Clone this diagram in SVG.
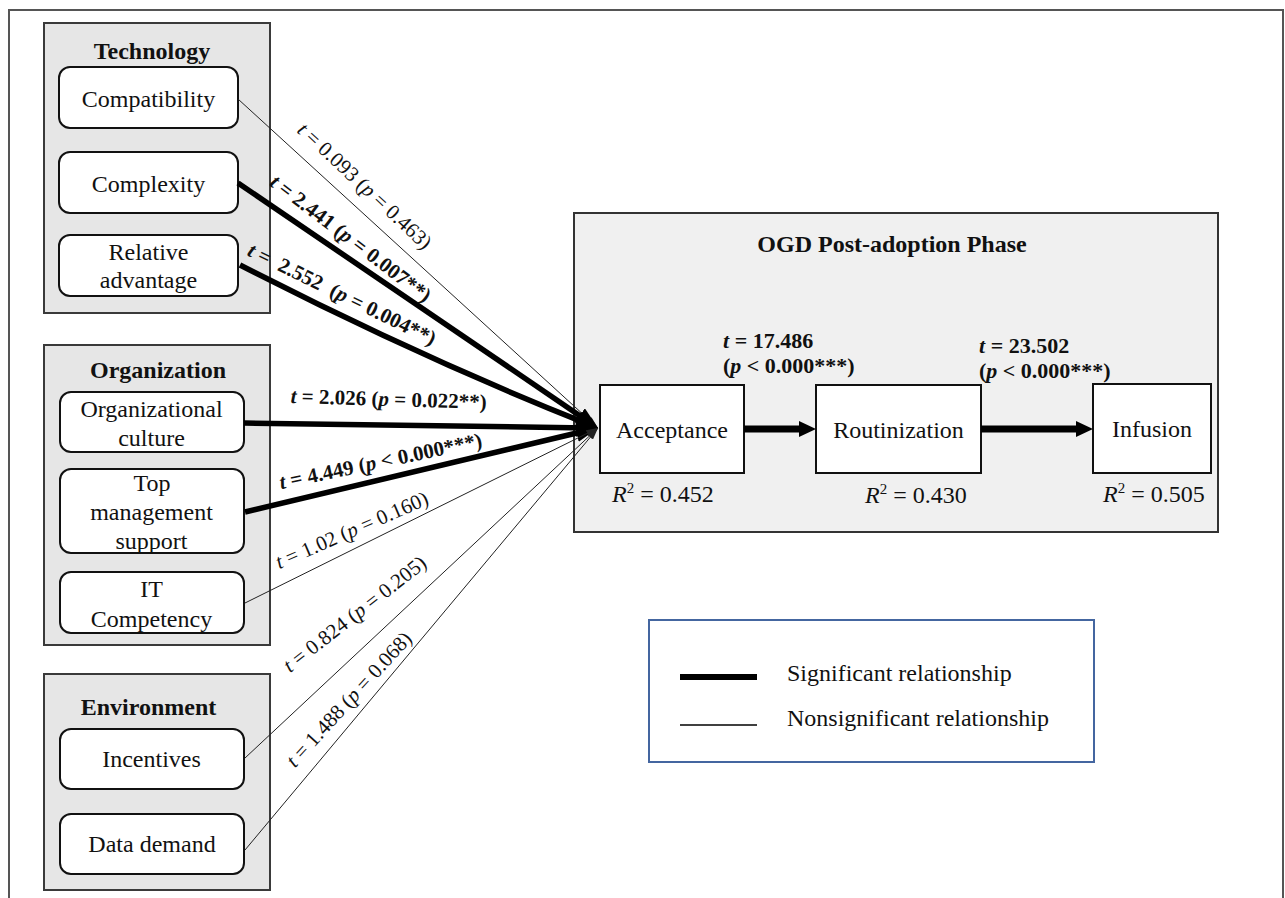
<svg xmlns="http://www.w3.org/2000/svg" width="1285" height="898" viewBox="0 0 1285 898">
<style>
text{font-family:"Liberation Serif","Times New Roman",serif;fill:#111}
.grp{fill:#e6e6e6;stroke:#3a3a3a;stroke-width:2}
.node{fill:#fff;stroke:#111;stroke-width:2}
.title{font-size:24px;font-weight:bold;text-anchor:middle}
.lbl{font-size:24px;text-anchor:middle}
.sig{stroke:#000;stroke-width:5.5;fill:none}
.ns{stroke:#222;stroke-width:1;fill:none}
.tl{font-size:21px;text-anchor:middle}
.tb{font-size:21px;font-weight:bold;text-anchor:middle}
.it{font-style:italic}
.big{font-size:22px;font-weight:bold}
.r2{font-size:24px}
</style>
<defs>
<marker id="ahThick" markerUnits="userSpaceOnUse" viewBox="0 0 22 18" markerWidth="22" markerHeight="18" refX="12" refY="9" orient="auto"><path d="M0,0 L22,9 L0,18 z" fill="#000"/></marker>
<marker id="ahThin" markerUnits="userSpaceOnUse" viewBox="0 0 12 7" markerWidth="12" markerHeight="7" refX="12" refY="3.5" orient="auto"><path d="M0,0 L12,3.5 L0,7 z" fill="#222"/></marker>
<marker id="ahBig" markerUnits="userSpaceOnUse" viewBox="0 0 17 16" markerWidth="17" markerHeight="16" refX="0" refY="8" orient="auto"><path d="M0,0 L17,8 L0,16 z" fill="#000"/></marker>
</defs>

<rect x="9" y="10" width="1274" height="900" fill="#fff" stroke="#555" stroke-width="2"/>

<g id="technology">
<rect class="grp" x="44" y="23" width="226" height="290"/>
<text class="title" x="152" y="59">Technology</text>
</g>
<g id="compatibility">
<rect class="node" x="59" y="67" width="179" height="61" rx="11"/>
<text class="lbl" x="148.5" y="107">Compatibility</text>
</g>
<g id="complexity">
<rect class="node" x="59" y="152" width="179" height="61" rx="11"/>
<text class="lbl" x="148.5" y="192">Complexity</text>
</g>
<g id="relative-advantage">
<rect class="node" x="59" y="235" width="179" height="61" rx="11"/>
<text class="lbl" x="148.5" y="260">Relative</text>
<text class="lbl" x="148.5" y="288">advantage</text>
</g>

<g id="organization">
<rect class="grp" x="44" y="345" width="226" height="300"/>
<text class="title" x="158" y="378">Organization</text>
</g>
<g id="organizational-culture">
<rect class="node" x="60" y="392" width="184" height="60" rx="11"/>
<text class="lbl" x="151.5" y="417">Organizational</text>
<text class="lbl" x="151.5" y="446">culture</text>
</g>
<g id="top-management-support">
<rect class="node" x="60" y="469" width="184" height="84" rx="11"/>
<text class="lbl" x="152" y="491">Top</text>
<text class="lbl" x="151.5" y="520">management</text>
<text class="lbl" x="151.5" y="549">support</text>
</g>
<g id="it-competency">
<rect class="node" x="60" y="572" width="184" height="61" rx="11"/>
<text class="lbl" x="151.5" y="597">IT</text>
<text class="lbl" x="151.5" y="627">Competency</text>
</g>

<g id="environment">
<rect class="grp" x="44" y="674" width="226" height="216"/>
<text class="title" x="148.5" y="715">Environment</text>
</g>
<g id="incentives">
<rect class="node" x="60" y="729" width="184" height="60" rx="11"/>
<text class="lbl" x="151.5" y="767">Incentives</text>
</g>
<g id="data-demand">
<rect class="node" x="60" y="814" width="184" height="60" rx="11"/>
<text class="lbl" x="152" y="852">Data demand</text>
</g>

<g id="ogd-phase">
<rect x="574" y="213" width="644" height="319" fill="#f0f0f0" stroke="#333" stroke-width="2"/>
<text class="title" x="892" y="252">OGD Post-adoption Phase</text>
</g>
<g id="acceptance">
<rect class="node" x="600" y="385" width="144" height="88"/>
<text class="lbl" x="672" y="438">Acceptance</text>
<text class="r2" x="612" y="502"><tspan class="it">R</tspan><tspan font-size="15" dy="-9">2</tspan><tspan dy="9"> = 0.452</tspan></text>
</g>
<g id="routinization">
<rect class="node" x="816" y="385" width="165" height="88"/>
<text class="lbl" x="898.5" y="438">Routinization</text>
<text class="r2" x="865" y="503"><tspan class="it">R</tspan><tspan font-size="15" dy="-9">2</tspan><tspan dy="9"> = 0.430</tspan></text>
</g>
<g id="infusion">
<rect class="node" x="1093" y="384" width="118" height="89"/>
<text class="lbl" x="1152" y="437">Infusion</text>
<text class="r2" x="1103" y="502"><tspan class="it">R</tspan><tspan font-size="15" dy="-9">2</tspan><tspan dy="9"> = 0.505</tspan></text>
</g>

<g id="connectors">
<line class="ns" x1="238" y1="99" x2="598" y2="428" marker-end="url(#ahThin)"/>
<line class="sig" x1="238" y1="183" x2="589.7" y2="422.4" marker-end="url(#ahThick)"/>
<path class="sig" d="M240,265 Q419,357 588.7,424.4" marker-end="url(#ahThick)"/>
<line class="sig" x1="244" y1="423" x2="588" y2="427.9" marker-end="url(#ahThick)"/>
<line class="sig" x1="245" y1="512" x2="588.3" y2="430.3" marker-end="url(#ahThick)"/>
<line class="ns" x1="245" y1="603" x2="598" y2="428" marker-end="url(#ahThin)"/>
<line class="ns" x1="245" y1="758" x2="598" y2="428" marker-end="url(#ahThin)"/>
<line class="ns" x1="245" y1="850" x2="598" y2="428" marker-end="url(#ahThin)"/>
<line stroke="#000" stroke-width="7" x1="744" y1="429" x2="799" y2="429" marker-end="url(#ahBig)"/>
<line stroke="#000" stroke-width="7" x1="981" y1="429" x2="1076" y2="429" marker-end="url(#ahBig)"/>

<text class="tl" transform="translate(360,191) rotate(43)"><tspan class="it">t</tspan> = 0.093 (<tspan class="it">p</tspan> = 0.463)</text>
<text class="tb" transform="translate(346.5,244) rotate(37.2)"><tspan class="it">t</tspan> = 2.441 (<tspan class="it">p</tspan> = 0.007**)</text>
<text class="tb" xml:space="preserve" transform="translate(339,300.5) rotate(26.1)"><tspan class="it">t</tspan> =  2.552  (<tspan class="it">p</tspan> = 0.004**)</text>
<text class="tb" transform="translate(388.5,406) rotate(1.8)"><tspan class="it">t</tspan> = 2.026 (<tspan class="it">p</tspan> = 0.022**)</text>
<text class="tb" transform="translate(382,468) rotate(-11.9)"><tspan class="it">t</tspan> = 4.449 (<tspan class="it">p</tspan> &lt; 0.000***)</text>
<text class="tl" transform="translate(354.5,536.5) rotate(-23.5)"><tspan class="it">t</tspan> = 1.02 (<tspan class="it">p</tspan> = 0.160)</text>
<text class="tl" transform="translate(359,619.5) rotate(-37.9)"><tspan class="it">t</tspan> = 0.824 (<tspan class="it">p</tspan> = 0.205)</text>
<text class="tl" transform="translate(354,704) rotate(-47.5)"><tspan class="it">t</tspan> = 1.488 (<tspan class="it">p</tspan> = 0.068)</text>

<text class="big" x="723" y="348"><tspan class="it">t</tspan> = 17.486</text>
<text class="big" x="723" y="373">(<tspan class="it">p</tspan> &lt; 0.000***)</text>
<text class="big" x="979" y="353"><tspan class="it">t</tspan> = 23.502</text>
<text class="big" x="979" y="378">(<tspan class="it">p</tspan> &lt; 0.000***)</text>
</g>

<g id="legend">
<rect x="649" y="620" width="445" height="142" fill="#fff" stroke="#4466a0" stroke-width="2"/>
<line x1="680" y1="677" x2="757" y2="677" stroke="#000" stroke-width="6"/>
<line x1="680" y1="725" x2="757" y2="725" stroke="#000" stroke-width="1.5"/>
<text x="787" y="681" font-size="24">Significant relationship</text>
<text x="787" y="726" font-size="24">Nonsignificant relationship</text>
</g>
</svg>
